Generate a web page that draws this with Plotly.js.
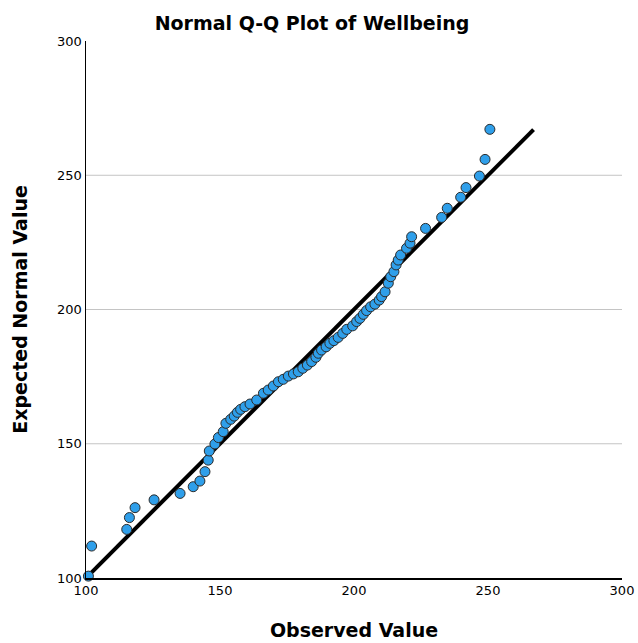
<!DOCTYPE html>
<html>
<head>
<meta charset="utf-8">
<script src="https://cdn.plot.ly/plotly-3.0.1.min.js"></script>
<style>html,body{margin:0;padding:0;background:#fff;}#chart{width:638px;height:643px;}</style>
</head>
<body>
<div id="chart"></div>
<script>
// Observed values (x) and expected normal values (y)
const observed = [100.9,102.1,115.2,116.2,118.3,125.4,135.1,140.0,142.5,144.4,145.6,146.0,148.1,149.4,151.2,152.2,154.0,155.3,156.5,157.7,159.3,161.2,163.7,166.2,168.0,169.9,171.8,173.6,175.5,177.4,179.2,180.9,182.6,184.2,185.8,186.7,187.9,189.6,191.0,192.5,194.1,195.8,197.3,199.5,201.0,202.2,203.5,204.7,206.2,207.8,209.4,210.3,211.6,212.8,213.7,214.9,215.7,216.5,217.4,219.6,220.9,221.5,226.7,232.7,234.8,239.8,241.8,246.8,248.9,250.7];
const expected = [100.7,111.9,118.1,122.5,126.2,129.1,131.5,134.0,136.1,139.6,143.9,147.3,149.9,152.3,154.5,157.6,159.1,160.3,161.7,162.8,163.8,164.8,166.3,168.8,170.0,171.5,173.1,174.0,175.2,176.0,176.8,178.1,179.3,180.6,182.2,183.7,184.9,186.1,187.4,188.4,189.6,191.1,192.6,193.9,195.5,196.7,198.2,199.6,201.0,202.0,203.5,204.8,206.6,209.8,212.2,214.1,216.6,218.4,220.3,222.8,224.7,227.1,230.2,234.3,237.7,241.8,245.4,249.7,255.9,267.1];
// Reference line (y = x)
const lineX = [100, 267];
const lineY = [100, 267];
const tickVals = [100, 150, 200, 250, 300];
const gridVals = [150, 200, 250];

const traces = [
  {x: lineX, y: lineY, mode: 'lines', line: {color: '#000', width: 4}, hoverinfo: 'skip', cliponaxis: false},
  {x: observed, y: expected, mode: 'markers', cliponaxis: false,
   marker: {size: 10, color: '#2f9fea', line: {color: '#2b2b2b', width: 1}}}
];

const layout = {
  width: 638, height: 643,
  margin: {l: 86, r: 16, t: 41, b: 65},
  paper_bgcolor: '#fff', plot_bgcolor: '#fff',
  showlegend: false,
  font: {family: 'DejaVu Sans, sans-serif', color: '#000'},
  title: {text: '<b>Normal Q-Q Plot of Wellbeing</b>', font: {size: 19, family: 'DejaVu Sans', color: '#000'},
          xref: 'container', x: 0.489, xanchor: 'center', yref: 'container', y: 0.964, yanchor: 'middle'},
  xaxis: {range: [100, 300], tickvals: tickVals, ticks: '', showgrid: false, zeroline: false,
          showline: true, linecolor: '#000', linewidth: 1.5, tickfont: {size: 13, color: '#000'},
          title: {text: '<b>Observed Value</b>', font: {size: 19, color: '#000'}, standoff: 26}},
  yaxis: {range: [100, 300], tickvals: tickVals, ticks: '', showgrid: false, zeroline: false,
          showline: true, linecolor: '#000', linewidth: 1.5, tickfont: {size: 13, color: '#000'},
          title: {text: '<b>Expected Normal Value</b>', font: {size: 19, color: '#000'}, standoff: 24}},
  shapes: gridVals.map(v => ({type: 'line', xref: 'paper', yref: 'y', x0: 0, x1: 1, y0: v, y1: v,
                              line: {color: '#c4c4c4', width: 1}, layer: 'below'}))
};

Plotly.newPlot('chart', traces, layout, {displayModeBar: false, staticPlot: true});
</script>
</body>
</html>
